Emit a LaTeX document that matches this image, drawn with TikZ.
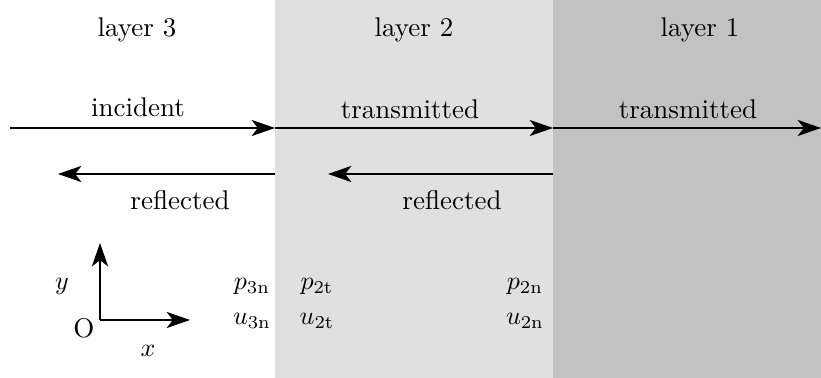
\documentclass[tikz,border=0pt]{standalone}
\usetikzlibrary{arrows.meta}
\definecolor{lay2}{RGB}{224,224,224}
\definecolor{lay1}{RGB}{194,194,194}
\tikzset{
  wave/.style={line width=0.8pt,-{Stealth[length=9pt,width=6.2pt,inset=2.4pt]}},
  lbl/.style={inner sep=0pt,anchor=base,font=\fontsize{10.4}{12.5}\selectfont},
}
\begin{document}
\begin{tikzpicture}[x=0.385pt,y=-0.385pt]
\useasboundingbox (0,0) rectangle (821,378);
\fill[lay2] (275,0) rectangle (553,378);
\fill[lay1] (553,0) rectangle (821,378);
\node[lbl] (l3) at (137,37) {layer 3};
\node[lbl] (l2) at (414,37) {layer 2};
\node[lbl] (l1) at (700,37) {layer 1};
% coordinates
\coordinate (a0) at (10,128);
\coordinate (a1) at (275,128);
\coordinate (a2) at (553,128);
\coordinate (a3) at (821,128);
\coordinate (r1s) at (275,174);
\coordinate (r1e) at (58,174);
\coordinate (r2s) at (553,174);
\coordinate (r2e) at (328,174);
\draw[wave] (a0) -- (a1);
\draw[wave] (a1) -- (a2);
\draw[wave] (a2) -- (a3);
\draw[wave] (r1s) -- (r1e);
\draw[wave] (r2s) -- (r2e);
\node[lbl] (inc) at (138,117) {incident};
\node[lbl] (tr2) at (410,119) {transmitted};
\node[lbl] (tr1) at (688,119) {transmitted};
\node[lbl] (rf3) at (180,210) {reflected};
\node[lbl] (rf2) at (452,210) {reflected};
% axes
\coordinate (O) at (100,320);
\coordinate (Y) at (100,243);
\coordinate (X) at (190,320);
\draw[wave] (O) -- (Y);
\draw[wave] (O) -- (X);
\node[lbl] (ylab) at (62,290) {$y$};
\node[lbl] (olab) at (84,338) {O};
\node[lbl] (xlab) at (148,357) {$x$};
\node[lbl] (p3n) at (252,290) {$p_{\mathrm{3n}}$};
\node[lbl] (u3n) at (252,325) {$u_{\mathrm{3n}}$};
\node[lbl] (p2t) at (317,290) {$p_{\mathrm{2t}}$};
\node[lbl] (u2t) at (317,325) {$u_{\mathrm{2t}}$};
\node[lbl] (p2n) at (525,290) {$p_{\mathrm{2n}}$};
\node[lbl] (u2n) at (525,325) {$u_{\mathrm{2n}}$};
\end{tikzpicture}
\end{document}
